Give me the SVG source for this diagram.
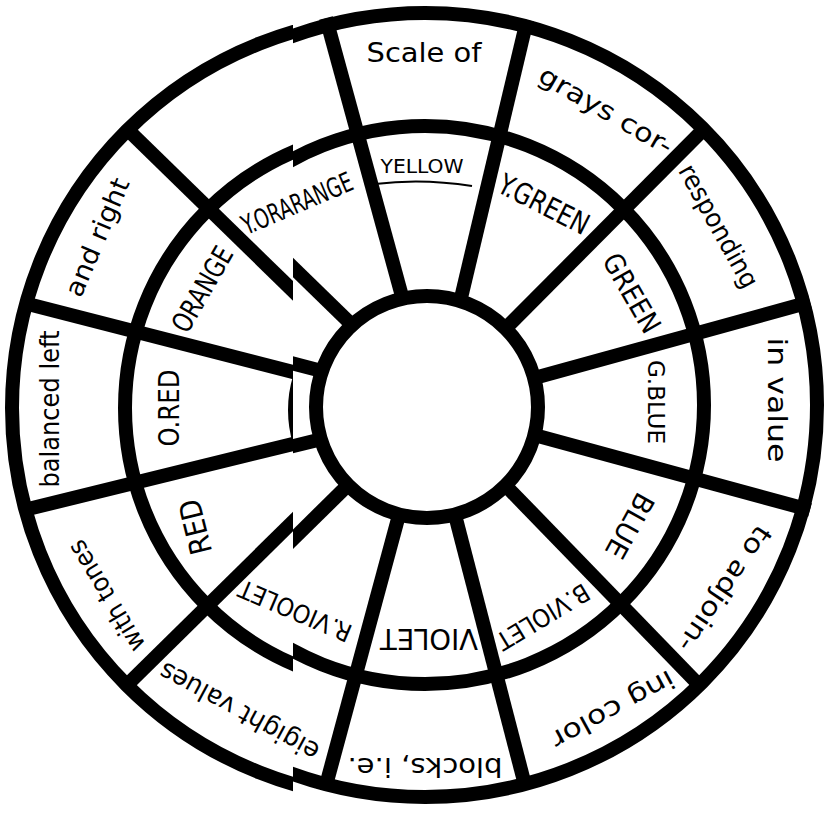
<svg xmlns="http://www.w3.org/2000/svg" width="829" height="814" viewBox="0 0 829 814">
<style>
.ln{fill:none;stroke:#000;stroke-width:14;stroke-linecap:butt}
.cap{font-family:"Liberation Sans Narrow","DejaVu Sans Condensed","Liberation Sans",sans-serif;text-anchor:middle;fill:#000}
.low{font-family:"DejaVu Sans","Liberation Sans",sans-serif;text-anchor:middle;fill:#000}
</style>
<defs>
<g id="wheel">
  <circle cx="425" cy="405" r="392" class="ln" stroke-width="15"/>
  <circle cx="425" cy="405" r="279" class="ln"/>
  <circle cx="427" cy="407" r="111" class="ln"/>
  <line class="ln" x1="403" y1="300" x2="326" y2="18"/>
  <line class="ln" x1="461" y1="298" x2="527" y2="20"/>
  <line class="ln" x1="507" y1="327" x2="705" y2="128"/>
  <line class="ln" x1="538" y1="377" x2="810" y2="302"/>
  <line class="ln" x1="538" y1="436" x2="810" y2="510"/>
  <line class="ln" x1="507" y1="487" x2="700" y2="686"/>
  <line class="ln" x1="455" y1="515" x2="526" y2="789"/>
  <line class="ln" x1="399" y1="515" x2="325" y2="789"/>
  <line class="ln" x1="345" y1="488" x2="148" y2="682"/>
  <line class="ln" x1="318" y1="440" x2="45" y2="507"/>
  <line class="ln" x1="318" y1="370" x2="45" y2="300"/>
  <line class="ln" x1="350" y1="323" x2="148" y2="126"/>
</g>
<clipPath id="cr"><rect x="293" y="0" width="536" height="814"/></clipPath>
<clipPath id="cl"><rect x="0" y="0" width="293" height="814"/></clipPath>
</defs>
<rect width="829" height="814" fill="#fff"/>
<g id="rings">
  <g clip-path="url(#cr)"><use href="#wheel"/></g>
  <g clip-path="url(#cl)"><use href="#wheel" transform="translate(-21,3)"/></g>
  <path d="M375,184 Q422,178 472,186" fill="none" stroke="#000" stroke-width="2"/>
</g>
<g id="inner-labels">
  <text class="cap" font-size="19" dy="0.36em" textLength="83" lengthAdjust="spacingAndGlyphs" transform="translate(422,166)">YELLOW</text>
  <text class="cap" font-size="29" dy="0.36em" textLength="98" lengthAdjust="spacingAndGlyphs" transform="translate(544,204) rotate(27)">Y.GREEN</text>
  <text class="cap" font-size="28" dy="0.36em" textLength="87" lengthAdjust="spacingAndGlyphs" transform="translate(632,293) rotate(60)">GREEN</text>
  <text class="cap" font-size="23" dy="0.36em" textLength="84" lengthAdjust="spacingAndGlyphs" transform="translate(656,402) rotate(90)">G.BLUE</text>
  <text class="cap" font-size="28" dy="0.36em" textLength="70" lengthAdjust="spacingAndGlyphs" transform="translate(630,526) rotate(119)">BLUE</text>
  <text class="cap" font-size="25" dy="0.36em" textLength="104" lengthAdjust="spacingAndGlyphs" transform="translate(543,617) rotate(149)">B.VIOLET</text>
  <text class="cap" font-size="28" dy="0.36em" textLength="98" lengthAdjust="spacingAndGlyphs" transform="translate(429,639) rotate(180)">VIOLET</text>
  <text class="cap" font-size="25" dy="0.36em" textLength="120" lengthAdjust="spacingAndGlyphs" transform="translate(295,611) rotate(203)">R.VIOOLET</text>
  <text class="cap" font-size="30" dy="0.36em" textLength="56" lengthAdjust="spacingAndGlyphs" transform="translate(195,527) rotate(256)">RED</text>
  <text class="cap" font-size="28" dy="0.36em" textLength="77" lengthAdjust="spacingAndGlyphs" transform="translate(169,408) rotate(270)">O.RED</text>
  <text class="cap" font-size="28" dy="0.36em" textLength="94" lengthAdjust="spacingAndGlyphs" transform="translate(202,289) rotate(-60)">ORANGE</text>
  <text class="cap" font-size="27" dy="0.36em" textLength="118" lengthAdjust="spacingAndGlyphs" transform="translate(297,203) rotate(-23)">Y.ORARANGE</text>
</g>
<g id="outer-labels">
  <text class="low" font-size="26" dy="0.27em" textLength="115" lengthAdjust="spacingAndGlyphs" transform="translate(424,55)">Scale of</text>
  <text class="low" font-size="26" dy="0.27em" textLength="150" lengthAdjust="spacingAndGlyphs" transform="translate(605,112) rotate(30)">grays cor-</text>
  <text class="low" font-size="26" dy="0.27em" textLength="137" lengthAdjust="spacingAndGlyphs" transform="translate(717,227) rotate(61)">responding</text>
  <text class="low" font-size="26" dy="0.27em" textLength="125" lengthAdjust="spacingAndGlyphs" transform="translate(775,400) rotate(90)">in value</text>
  <text class="low" font-size="26" dy="0.27em" textLength="146" lengthAdjust="spacingAndGlyphs" transform="translate(723,588) rotate(124)">to adjoin-</text>
  <text class="low" font-size="26" dy="0.27em" textLength="136" lengthAdjust="spacingAndGlyphs" transform="translate(612,708) rotate(151.5)">ing color</text>
  <text class="low" font-size="27" dy="0.27em" textLength="155" lengthAdjust="spacingAndGlyphs" transform="translate(425,765) rotate(180)">blocks, i.e.</text>
  <text class="low" font-size="26" dy="0.27em" textLength="178" lengthAdjust="spacingAndGlyphs" transform="translate(240,710) rotate(208.5)">eigight values</text>
  <text class="low" font-size="26" dy="0.27em" textLength="125" lengthAdjust="spacingAndGlyphs" transform="translate(108,595) rotate(239)">with tones</text>
  <text class="low" font-size="26" dy="0.27em" textLength="157" lengthAdjust="spacingAndGlyphs" transform="translate(52,409) rotate(270)">balanced left</text>
  <text class="low" font-size="26" dy="0.27em" textLength="126" lengthAdjust="spacingAndGlyphs" transform="translate(99,238) rotate(-67)">and right</text>
</g>
</svg>
